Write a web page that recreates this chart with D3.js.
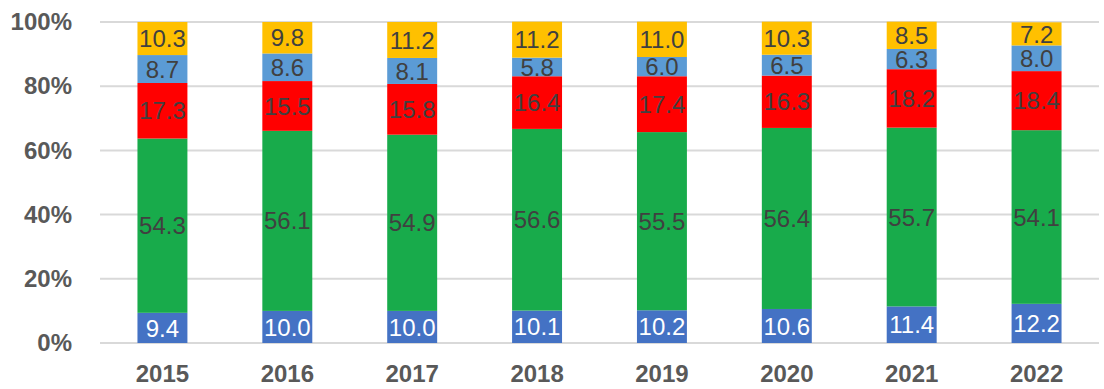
<!DOCTYPE html>
<html>
<head>
<meta charset="utf-8">
<script src="https://cdn.jsdelivr.net/npm/d3@7/dist/d3.min.js"></script>
<style>
  body { margin: 0; background: #fff; }
  svg { display: block; }
</style>
</head>
<body>
<svg id="chart" width="1104" height="389"></svg>
<script>
// Years along the x axis
const years = ["2015", "2016", "2017", "2018", "2019", "2020", "2021", "2022"];

// Shares (%) per series, stacked bottom to top
const seriesA = [9.4, 10.0, 10.0, 10.1, 10.2, 10.6, 11.4, 12.2];
const seriesB = [54.3, 56.1, 54.9, 56.6, 55.5, 56.4, 55.7, 54.1];
const seriesC = [17.3, 15.5, 15.8, 16.4, 17.4, 16.3, 18.2, 18.4];
const seriesD = [8.7, 8.6, 8.1, 5.8, 6.0, 6.5, 6.3, 8.0];
const seriesE = [10.3, 9.8, 11.2, 11.2, 11.0, 10.3, 8.5, 7.2];

const yTicks = [0, 20, 40, 60, 80, 100];

const seriesList = [
  { key: "a", values: seriesA, color: "#4472C4", text: "#ffffff" },
  { key: "b", values: seriesB, color: "#18AB4B", text: "#404040" },
  { key: "c", values: seriesC, color: "#FF0000", text: "#404040" },
  { key: "d", values: seriesD, color: "#5B9BD5", text: "#404040" },
  { key: "e", values: seriesE, color: "#FFC000", text: "#404040" }
];

const rows = years.map((yr, i) => {
  const r = { year: yr };
  seriesList.forEach(s => { r[s.key] = s.values[i]; });
  return r;
});

const svg = d3.select("#chart");
const plotLeft = 100, plotRight = 1099, plotTop = 22, plotBottom = 343;

const x = d3.scaleBand().domain(years).range([plotLeft, plotRight]).paddingInner(0.6).paddingOuter(0.3);
const y = d3.scaleLinear().domain([0, 100]).range([plotBottom, plotTop]);

// Horizontal gridlines
svg.append("g")
  .selectAll("line")
  .data(yTicks)
  .join("line")
  .attr("x1", plotLeft).attr("x2", plotRight)
  .attr("y1", d => y(d)).attr("y2", d => y(d))
  .attr("stroke", "#d9d9d9").attr("stroke-width", 2);

// Y axis labels
const yAxis = svg.append("g")
  .attr("transform", `translate(${plotLeft - 28},0)`)
  .call(d3.axisLeft(y).tickValues(yTicks).tickFormat(d => d + "%").tickSize(0).tickPadding(0));
yAxis.select(".domain").remove();
yAxis.selectAll("text")
  .attr("font-family", "Liberation Sans, Arial, sans-serif")
  .attr("font-size", 24).attr("font-weight", "bold").attr("fill", "#595959");

// X axis labels
const xAxis = svg.append("g")
  .attr("transform", `translate(0,${plotBottom})`)
  .call(d3.axisBottom(x).tickSize(0).tickPadding(22));
xAxis.select(".domain").remove();
xAxis.selectAll("text")
  .attr("font-family", "Liberation Sans, Arial, sans-serif")
  .attr("font-size", 24).attr("font-weight", "bold").attr("fill", "#595959");

const stack = d3.stack().keys(seriesList.map(s => s.key));
const layers = stack(rows);

const groups = svg.append("g")
  .selectAll("g")
  .data(layers)
  .join("g");

groups.each(function (layer, li) {
  const s = seriesList[li];
  const g = d3.select(this);
  g.selectAll("rect")
    .data(layer)
    .join("rect")
    .attr("x", d => x(d.data.year))
    .attr("width", x.bandwidth())
    .attr("y", d => y(d[1]))
    .attr("height", d => y(d[0]) - y(d[1]))
    .attr("fill", s.color);
  g.selectAll("text")
    .data(layer)
    .join("text")
    .attr("x", d => x(d.data.year) + x.bandwidth() / 2)
    .attr("y", d => y((d[0] + d[1]) / 2))
    .attr("dy", "0.36em")
    .attr("text-anchor", "middle")
    .attr("font-family", "Liberation Sans, Arial, sans-serif")
    .attr("font-size", 24)
    .attr("fill", s.text)
    .text(d => d.data[s.key].toFixed(1));
});
</script>
</body>
</html>
